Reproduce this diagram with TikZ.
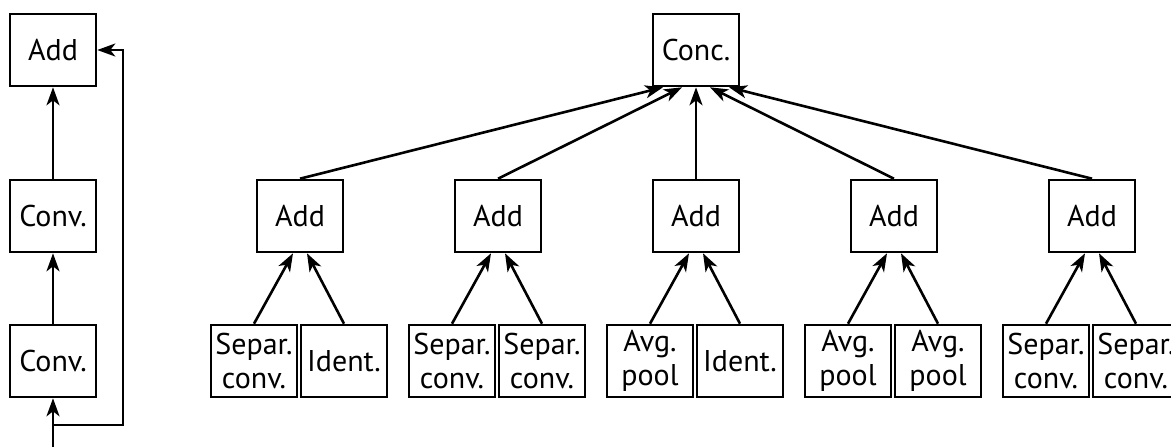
\documentclass[tikz,border=0pt]{standalone}
\usepackage{fontspec}
\setmainfont{PT Sans}
\usetikzlibrary{arrows.meta,positioning}
\tikzset{
  box/.style={draw, line width=1.3pt, minimum width=43pt, minimum height=36pt,
    inner sep=1pt, align=center, font=\fontsize{15}{17}\selectfont},
  link/.style={line width=1.3pt, -{Stealth[length=9pt,width=6.5pt,inset=2.5pt]}},
}
\begin{document}
\begin{tikzpicture}[x=0.5pt,y=-0.5pt]
    \useasboundingbox (0,0) rectangle (1171,447);

    % Normal cell
    \node[box] (add) at (53,50) {Add};
    \node[box] (conv1) at (53,216) {Conv.};
    \node[box] (conv0) at (53,361) {Conv.};
    \coordinate (in) at (53,447);
    \coordinate (skip) at (123,425);
    \draw[link] (in) -- (conv0);
    \draw[link] (conv0) -- (conv1);
    \draw[link] (conv1) -- (add);
    \draw[link] (in |- skip) -- (skip) |- (add.east);

    % Reduction cell
    \node[box] (conc) at (696,50) {Conc.};
    \foreach \i/\l/\r/\s in {
            0/{Separ.\\conv.}/Ident./-33,
            1/{Separ.\\conv.}/{Separ.\\conv.}/-14,
            2/{Avg.\\pool}/Ident./0,
            3/{Avg.\\pool}/{Avg.\\pool}/14,
            4/{Separ.\\conv.}/{Separ.\\conv.}/33
            } {
        \node[box] (add\i) at (300+198*\i,216) {Add};
        \node[box] (lft\i) at (254+198*\i,361) {\l};
        \node[box] (rgt\i) at (344+198*\i,361) {\r};
        \draw[link] (lft\i.north) -- ([xshift=-3.5pt]add\i.south);
        \draw[link] (rgt\i.north) -- ([xshift=3.5pt]add\i.south);
        \draw[link] (add\i.north) -- ([xshift=\s*0.5pt]conc.south);
    }
\end{tikzpicture}
\end{document}
